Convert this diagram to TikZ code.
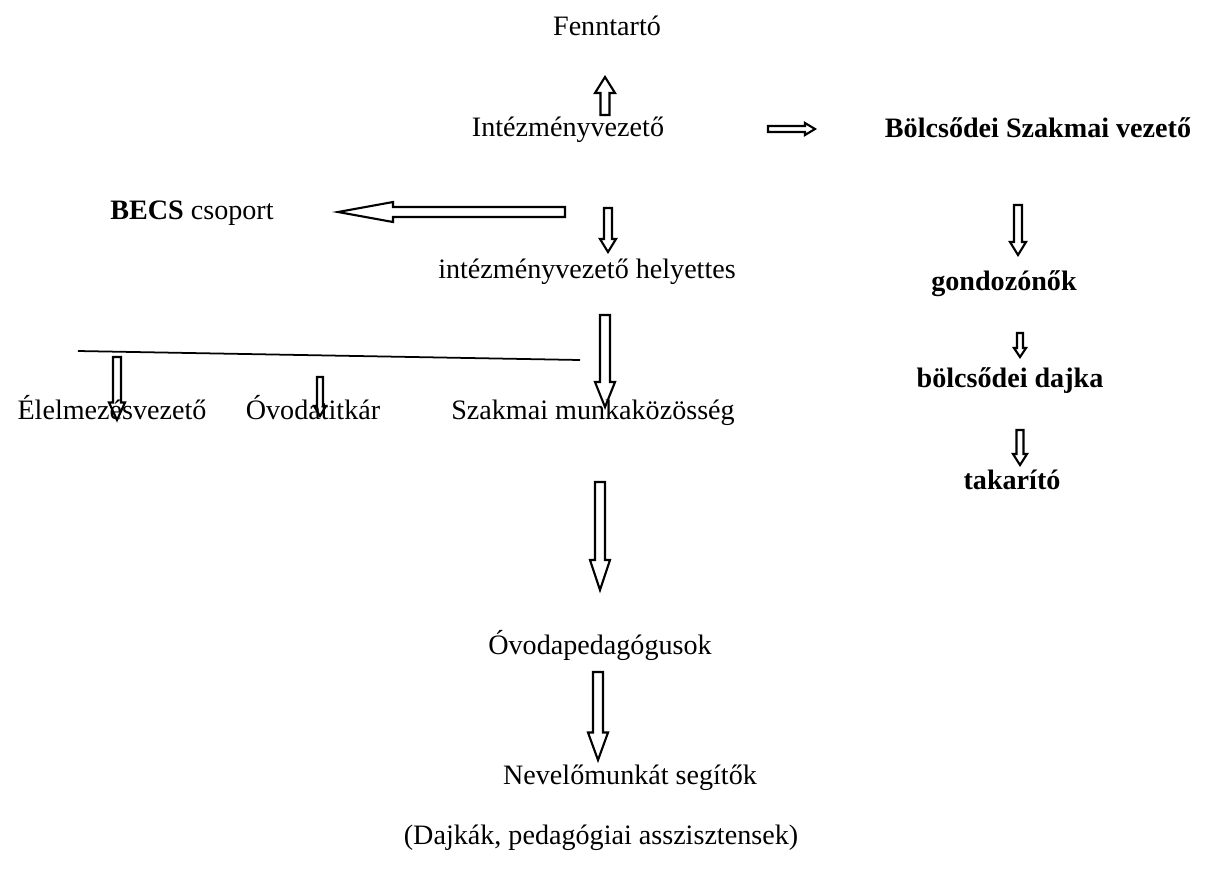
\documentclass[tikz,border=0pt]{standalone}
\usepackage{fontspec}
\setmainfont{Liberation Serif}
\usetikzlibrary{calc,positioning}
\tikzset{
    txt/.style={font=\fontsize{16}{19}\selectfont, text height=1.6ex, text depth=0.5ex},
    btxt/.style={txt, font=\fontsize{16}{19}\selectfont\bfseries},
    blk/.style n args={3}{draw, line width=1.2pt, line join=miter, to path={
        let \p1=($(\tikztotarget)-(\tikztostart)$), \n1={atan2(\y1,\x1)} in
        ($(\tikztostart)+({\n1+90}:#1)$)
        -- ($(\tikztotarget)+({\n1+180}:#3)+({\n1+90}:#1)$)
        -- ($(\tikztotarget)+({\n1+180}:#3)+({\n1+90}:#2)$)
        -- (\tikztotarget)
        -- ($(\tikztotarget)+({\n1+180}:#3)+({\n1-90}:#2)$)
        -- ($(\tikztotarget)+({\n1+180}:#3)+({\n1-90}:#1)$)
        -- ($(\tikztostart)+({\n1-90}:#1)$) -- cycle}}
}
\begin{document}
\begin{tikzpicture}
    \useasboundingbox (0,0) rectangle (24.14,-17.66);
    \node [txt] (fenn) at (12.14,-0.62) {Fenntartó};
    \node [txt] (vez) at (11.36,-2.64) {Intézményvezető};
    \node [btxt] (bvez) at (20.76,-2.66) {Bölcsődei Szakmai vezető};
    \node [txt] (becs) at (3.84,-4.3) {\textbf{BECS} csoport};
    \node [txt] (help) at (11.74,-5.48) {intézményvezető helyettes};
    \node [btxt] (gond) at (20.08,-5.72) {gondozónők};
    \node [btxt] (bdajka) at (20.2,-7.66) {bölcsődei dajka};
    \node [btxt] (tak) at (20.24,-9.7) {takarító};
    \node [txt] (elel) at (2.24,-8.3) {Élelmezésvezető};
    \node [txt] (titk) at (6.26,-8.3) {Óvodatitkár};
    \node [txt] (mkoz) at (11.86,-8.3) {Szakmai munkaközösség};
    \node [txt] (ped) at (12.0,-13.0) {Óvodapedagógusok};
    \node [txt] (sega) at (12.6,-15.6) {Nevelőmunkát segítők};
    \node [txt] (segb) at (12.02,-16.8) {(Dajkák, pedagógiai asszisztensek)};

    \coordinate (a1) at (12.1,-2.3);    \coordinate (b1) at (12.1,-1.54);
    \coordinate (a2) at (15.36,-2.58);  \coordinate (b2) at (16.3,-2.58);
    \coordinate (a3) at (11.3,-4.24);   \coordinate (b3) at (6.76,-4.24);
    \coordinate (a4) at (12.16,-4.16);  \coordinate (b4) at (12.16,-5.04);
    \coordinate (a5) at (20.36,-4.1);   \coordinate (b5) at (20.36,-5.1);
    \coordinate (a6) at (20.4,-6.66);   \coordinate (b6) at (20.4,-7.14);
    \coordinate (a7) at (20.4,-8.6);    \coordinate (b7) at (20.4,-9.3);
    \coordinate (a8) at (12.1,-6.3);    \coordinate (b8) at (12.1,-8.14);
    \coordinate (a9) at (2.34,-7.14);   \coordinate (b9) at (2.34,-8.4);
    \coordinate (a10) at (6.4,-7.54);   \coordinate (b10) at (6.4,-8.32);
    \coordinate (a11) at (12.0,-9.64);  \coordinate (b11) at (12.0,-11.8);
    \coordinate (a12) at (11.96,-13.44); \coordinate (b12) at (11.96,-15.2);
    \coordinate (l1) at (1.56,-7.02);   \coordinate (l2) at (11.6,-7.2);

    \draw [blk={0.09cm}{0.2cm}{0.32cm}] (a1) to (b1);
    \draw [blk={0.06cm}{0.12cm}{0.2cm}] (a2) to (b2);
    \draw [blk={0.1cm}{0.2cm}{1.1cm}] (a3) to (b3);
    \draw [blk={0.08cm}{0.16cm}{0.26cm}] (a4) to (b4);
    \draw [blk={0.08cm}{0.16cm}{0.26cm}] (a5) to (b5);
    \draw [blk={0.06cm}{0.12cm}{0.18cm}] (a6) to (b6);
    \draw [blk={0.07cm}{0.14cm}{0.22cm}] (a7) to (b7);
    \draw [blk={0.1cm}{0.2cm}{0.5cm}] (a8) to (b8);
    \draw [blk={0.08cm}{0.16cm}{0.35cm}] (a9) to (b9);
    \draw [blk={0.06cm}{0.12cm}{0.2cm}] (a10) to (b10);
    \draw [blk={0.1cm}{0.2cm}{0.6cm}] (a11) to (b11);
    \draw [blk={0.1cm}{0.2cm}{0.55cm}] (a12) to (b12);
    \draw [line width=1pt] (l1) -- (l2);
\end{tikzpicture}
\end{document}
